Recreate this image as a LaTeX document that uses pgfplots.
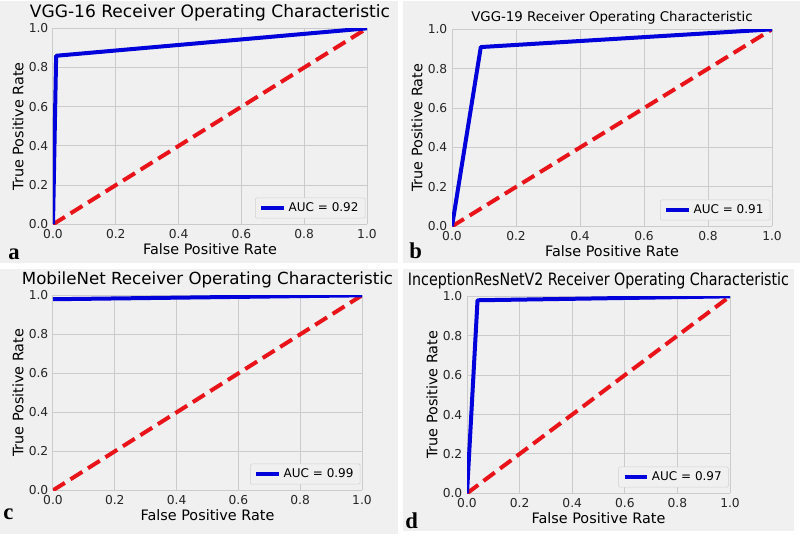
\documentclass[border=0pt]{standalone}
\usepackage{fontspec}
\setmainfont{DejaVu Sans}
\newfontfamily\labelfont{Liberation Serif}
\usepackage{pgfplots}
\pgfplotsset{compat=1.18}

\definecolor{panelbg}{HTML}{F0F0F0}
\definecolor{gridc}{HTML}{CBCBCB}
\definecolor{roc}{HTML}{0000DA}
\definecolor{chance}{HTML}{E8141A}

\pgfplotsset{
  rocpanel/.style={
    scale only axis,
    anchor=south west,
    xmin=0, xmax=1, ymin=0, ymax=1,
    xtick={0,0.2,0.4,0.6,0.8,1.0},
    ytick={0,0.2,0.4,0.6,0.8,1.0},
    xticklabel style={/pgf/number format/.cd,fixed,fixed zerofill,precision=1},
    yticklabel style={/pgf/number format/.cd,fixed,fixed zerofill,precision=1},
    /pgf/number format/assume math mode=true,
    axis background/.style={fill=panelbg},
    axis line style={draw=none},
    major tick length=0pt,
    grid=major,
    major grid style={gridc, line width=0.75pt},
    tick label style={font=\fontsize{9.2}{10}\selectfont, text=black!85},
    label style={font=\fontsize{10.8}{12}\selectfont},
    xlabel={False Positive Rate},
    ylabel={True Positive Rate},
    xlabel style={yshift=3pt},
    ylabel style={yshift=-3pt},
    title style={font=\fontsize{12.8}{14}\selectfont, yshift=-4pt},
    legend pos=south east,
    legend style={draw=black!18, fill=panelbg, rounded corners=1pt,
      font=\fontsize{9}{10}\selectfont, inner xsep=3pt, inner ysep=1.5pt,
      at={(0.995,0.03)}},
    legend cell align=left,
    legend image code/.code={\draw[#1] (0pt,0pt) -- (0.6cm,0pt);},
    clip=true,
  },
  rocline/.style={roc, line width=3pt, line join=round},
  chanceline/.style={chance, line width=3pt, dash pattern=on 10.5pt off 5pt, forget plot},
}

\begin{document}
\begin{tikzpicture}
% page and panel backgrounds (1 px = 0.75 pt)
\fill[white] (0pt,0pt) rectangle (600pt,-402.75pt);
\fill[panelbg] (0pt,0pt) rectangle (298.5pt,-196.5pt);
\fill[panelbg] (302.25pt,0pt) rectangle (600pt,-196.5pt);
\fill[panelbg] (0pt,-201pt) rectangle (298.5pt,-399.75pt);
\fill[panelbg] (302.25pt,-201pt) rectangle (595.5pt,-397.5pt);

% (a) VGG-16
\begin{axis}[rocpanel, at={(39.75pt,-167.25pt)}, width=235.5pt, height=147pt,
  title={VGG-16 Receiver Operating Characteristic}]
\addplot[chanceline] coordinates {(0,0) (1,1)};
\addplot[rocline] coordinates {(0,0) (0.01,0.86) (1,1)};
\addlegendentry{AUC = 0.92}
\end{axis}

% (b) VGG-19
\begin{axis}[rocpanel, at={(339pt,-168.75pt)}, width=240pt, height=147.75pt,
  title style={font=\fontsize{10}{12}\selectfont, yshift=-2pt},
  title={VGG-19 Receiver Operating Characteristic}]
\addplot[chanceline] coordinates {(0,0) (1,1)};
\addplot[rocline] coordinates {(0,0) (0.09,0.91) (1,1)};
\addlegendentry{AUC = 0.91}
\end{axis}

% (c) MobileNet
\begin{axis}[rocpanel, at={(39.75pt,-366.75pt)}, width=231.75pt, height=146.25pt,
  title style={font=\fontsize{12.5}{14}\selectfont},
  title={MobileNet Receiver Operating Characteristic}]
\addplot[chanceline] coordinates {(0,0) (1,1)};
\addplot[rocline] coordinates {(0,0.98) (1,1)};
\addlegendentry{AUC = 0.99}
\end{axis}

% (d) InceptionResNetV2
\begin{axis}[rocpanel, at={(350.25pt,-369pt)}, width=197.25pt, height=147.75pt,
  title={\scalebox{0.835}[1]{InceptionResNetV2 Receiver Operating Characteristic}}]
\addplot[chanceline] coordinates {(0,0) (1,1)};
\addplot[rocline] coordinates {(0,0) (0.04,0.98) (1,1)};
\addlegendentry{AUC = 0.97}
\end{axis}

% panel letters
\node[anchor=base west, inner sep=0pt, font=\labelfont\bfseries\fontsize{17}{18}\selectfont] at (6pt,-193.5pt) {a};
\node[anchor=base west, inner sep=0pt, font=\labelfont\bfseries\fontsize{17}{18}\selectfont] at (306.75pt,-192.75pt) {b};
\node[anchor=base west, inner sep=0pt, font=\labelfont\bfseries\fontsize{17}{18}\selectfont] at (2.25pt,-388.5pt) {c};
\node[anchor=base west, inner sep=0pt, font=\labelfont\bfseries\fontsize{17}{18}\selectfont] at (303.75pt,-395.25pt) {d};
\end{tikzpicture}
\end{document}
